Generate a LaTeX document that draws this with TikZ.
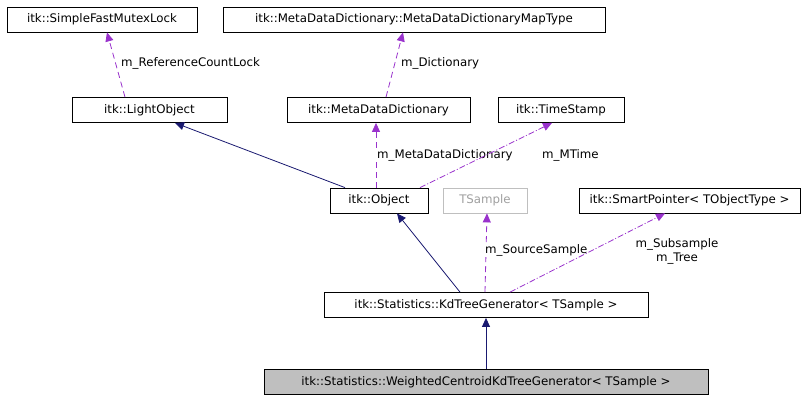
\documentclass[tikz,border=0pt]{standalone}
\usepackage{fontspec}
\setmainfont{DejaVu Sans}
\usetikzlibrary{arrows.meta}
\begin{document}
\begin{tikzpicture}[x=1pt,y=-1pt,
  box/.style={draw=black,line width=0.8pt,inner sep=0pt,minimum height=25pt,font=\fontsize{11.8}{14}\selectfont,fill=white},
  inh/.style={draw={rgb,255:red,25;green,25;blue,112},line width=0.8pt,-{Triangle[length=9pt,width=8pt]}},
  use/.style={draw={rgb,255:red,153;green,50;blue,204},line width=0.8pt,dash pattern=on 6pt off 4pt,-{Triangle[length=9pt,width=8pt]}},
  lab/.style={font=\fontsize{11.8}{14}\selectfont,inner sep=1pt,fill=white,align=center}]
\useasboundingbox (0,0) rectangle (807,400);
\node[box,minimum width=190pt] (mutex) at (102,19.5) {itk::SimpleFastMutexLock};
\node[box,minimum width=382pt] (map) at (414,19.5) {itk::MetaDataDictionary::MetaDataDictionaryMapType};
\node[box,minimum width=155pt] (light) at (149.5,110) {itk::LightObject};
\node[box,minimum width=183pt] (mdd) at (378.5,110) {itk::MetaDataDictionary};
\node[box,minimum width=126pt] (ts) at (561,110) {itk::TimeStamp};
\node[box,minimum width=98pt] (obj) at (379,200.5) {itk::Object};
\node[box,minimum width=84pt,draw={rgb,255:red,191;green,191;blue,191},text={rgb,255:red,160;green,160;blue,160}] (tsample) at (485,200.5) {TSample};
\node[box,minimum width=221pt] (sp) at (689.5,200.5) {itk::SmartPointer< TObjectType >};
\node[box,minimum width=324pt] (kd) at (486,305) {itk::Statistics::KdTreeGenerator< TSample >};
\node[box,minimum width=444pt,fill={rgb,255:red,191;green,191;blue,191}] (w) at (486,382) {itk::Statistics::WeightedCentroidKdTreeGenerator< TSample >};

\draw[use] (light.north -| 125,0) -- (mutex.south -| 107,0);
\node[lab,anchor=west] (l1) at (120,63) {m\_ReferenceCountLock};
\draw[use] (mdd.north -| 386,0) -- (map.south -| 403,0);
\node[lab,anchor=west] (l2) at (400,63) {m\_Dictionary};
\draw[inh] (obj.north -| 345,0) -- (light.south -| 175,0);
\draw[use] (obj.north -| 376,0) -- (mdd.south -| 376,0);
\node[lab,anchor=west] (l3) at (376,155) {m\_MetaDataDictionary};
\draw[use,dash pattern=on 6pt off 2pt on 1pt off 2pt] (obj.north -| 420,0) -- (ts.south -| 552,0);
\node[lab,anchor=west] (l4) at (541,155) {m\_MTime};
\draw[inh] (kd.north -| 460,0) -- (obj.south -| 397,0);
\draw[use] (kd.north -| 485,0) -- (tsample.south -| 487,0);
\node[lab,anchor=west] (l5) at (484,250) {m\_SourceSample};
\draw[use,dash pattern=on 6pt off 2pt on 1pt off 2pt] (kd.north -| 510,0) -- (sp.south -| 665,0);
\node[lab,fill=none] (l6) at (677,251) {m\_Subsample\\m\_Tree};
\draw[inh] (w.north) -- (kd.south);
\end{tikzpicture}
\end{document}
